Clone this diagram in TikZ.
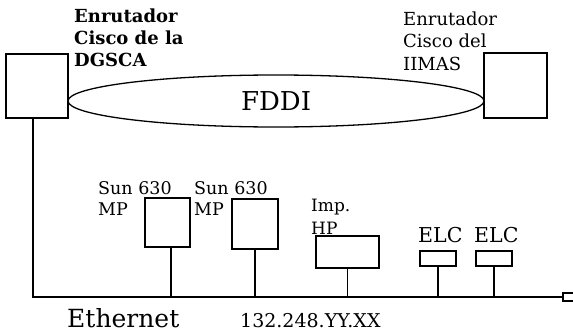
\documentclass[tikz,border=0pt]{standalone}
\usepackage{fontspec}
\setmainfont{DejaVu Serif}
\usepackage{tikz}
\usetikzlibrary{shapes.geometric, positioning, calc}

\tikzset{
  box/.style={draw, fill=white, line width=1.3pt, inner sep=0pt},
  lbl/.style={inner sep=0pt, anchor=base west, align=left},
  wire/.style={line width=1.3pt}
}

\begin{document}
\begin{tikzpicture}[x=1pt, y=-1pt]
  \useasboundingbox (0,0) rectangle (573,332);
  % FDDI ring between the two routers
  \node[ellipse, draw, line width=1.3pt, minimum width=416pt, minimum height=52pt,
        inner sep=0pt, font=\fontsize{26}{28}\selectfont] (ring) at (276,101) {FDDI};
  \node[box, minimum width=62pt, minimum height=64pt] (dgsca) at (37,86) {};
  \node[box, minimum width=63pt, minimum height=65pt] (imas) at (515.5,85.5) {};
  % labels are placed by the baseline of their last line
  \node[lbl, font=\fontsize{18}{22}\selectfont\bfseries] (dgscaLbl) at (74,66)
    {Enrutador\\Cisco de la\\DGSCA};
  \node[lbl, font=\fontsize{18}{22.5}\selectfont] (imasLbl) at (403,70)
    {Enrutador\\Cisco del\\IIMAS};

  % hosts on the ethernet
  \node[box, minimum width=45pt, minimum height=49pt] (sunA) at (167.5,222.5) {};
  \node[box, minimum width=46pt, minimum height=50pt] (sunB) at (255,224) {};
  \node[box, minimum width=63pt, minimum height=32pt] (hp) at (347.5,252) {};
  \node[box, minimum width=36pt, minimum height=15pt] (elcA) at (438,258.5) {};
  \node[box, minimum width=36pt, minimum height=15pt] (elcB) at (494,258.5) {};
  \node[lbl, font=\fontsize{17.5}{21}\selectfont] (sunALbl) at (98,215) {Sun 630\\MP};
  \node[lbl, font=\fontsize{17.5}{21}\selectfont] (sunBLbl) at (194,215) {Sun 630\\MP};
  \node[lbl, font=\fontsize{17}{23}\selectfont] (hpLbl) at (311,234) {Imp.\\HP};
  \node[lbl, font=\fontsize{20.5}{22}\selectfont] (elcALbl) at (418,242) {ELC};
  \node[lbl, font=\fontsize{20.5}{22}\selectfont] (elcBLbl) at (474,242) {ELC};

  % bus
  \coordinate (busL) at (33,297);
  \node[box, minimum width=12pt, minimum height=8pt] (termi) at (569,297) {};
  \draw[wire] (dgsca.south -| busL) -- (busL) -- (termi.west);
  \draw[wire] ([xshift=3.5pt]sunA.south) -- ([xshift=3.5pt]sunA.south |- busL);
  \foreach \h in {sunB, hp, elcA, elcB}
    \draw[wire] (\h.south) -- (\h.south |- busL);

  \node[lbl, font=\fontsize{25}{27}\selectfont] (ethLbl) at (67,327) {Ethernet};
  \node[lbl, font=\fontsize{19}{21}\selectfont] (ipLbl) at (240,327) {132.248.YY.XX};
\end{tikzpicture}
\end{document}
